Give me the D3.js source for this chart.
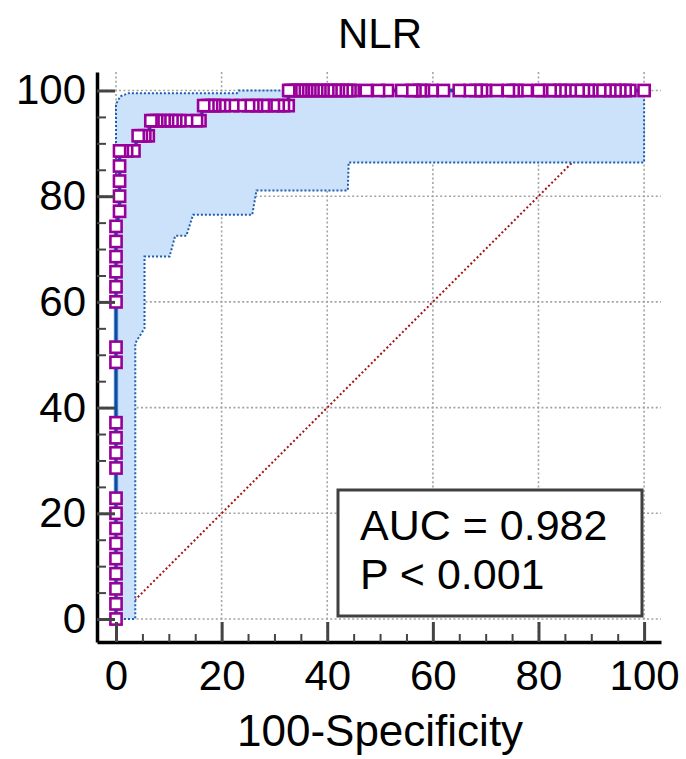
<!DOCTYPE html>
<html>
<head>
<meta charset="utf-8">
<script src="https://d3js.org/d3.v7.min.js"></script>
<style>
  body { margin: 0; background: #fff; }
  svg { display: block; font-family: 'Liberation Sans', Arial, sans-serif; }
  .grid line { stroke: #a3a3a3; stroke-width: 1.6; stroke-dasharray: 2 2.4; }
  .axis path.domain { stroke: #000; stroke-width: 3.5; }
  .axis .tick line { stroke: #444; stroke-width: 3; }
  .minor .tick line { stroke: #444; stroke-width: 2; }
  .axis text { font-size: 42px; fill: #000; }
</style>
</head>
<body>
<div id="holder"></div>
<script>
  // Chart values
  const title = 'NLR';
  const xLabel = '100-Specificity';
  const tickValues = [0, 20, 40, 60, 80, 100];
  const minorTicks = [5, 10, 15, 25, 30, 35, 45, 50, 55, 65, 70, 75, 85, 90, 95];

  // ROC points (100-specificity, sensitivity)
  const rocFpr = [
    0, 0, 0, 0, 0, 0, 0, 0, 0, 0, 0, 0, 0, 0, 0, 0, 0, 0, 0, 0, 0,
    0.67, 0.67, 0.67, 0.67, 0.67, 1.2, 2.0, 3.4,
    4.2, 4.8, 5.45, 6.1,
    6.6, 7.0, 7.7, 8.3, 9.1, 9.75, 10.6, 11.3, 12.1, 13.35, 15.25, 15.9,
    16.6, 17.4, 18.1, 18.7, 19.6, 20.5, 22.1, 23.5, 25.1, 25.9, 26.6, 27.9, 28.4, 29.8, 30.7, 31.7, 32.6,
    32.7, 33.1, 33.75, 34.4, 35.0, 35.5, 36.1, 36.7, 37.3, 38.0, 38.6, 39.2, 40.1, 40.7, 41.5, 42.1,
    42.8, 43.7, 44.3, 44.9, 47.4, 49.7, 51.4, 54.1, 56.0, 56.6, 57.6, 58.2, 59.8, 62.0, 65.0, 67.0,
    68.2, 69.2, 69.9, 72.1, 74.3, 75.2, 75.9, 77.7, 80.0, 80.6, 82.2, 83.1, 84.1, 85.0, 86.0, 87.5,
    88.5, 89.4, 90.1, 91.6, 92.6, 93.5, 94.5, 95.4, 96.4, 97.3, 100
  ];
  const rocSens = [
    0, 2.86, 5.71, 8.57, 11.43, 14.29, 17.14, 20.0, 22.86, 28.57, 31.43, 34.29, 37.14, 48.57, 51.43,
    60.0, 62.86, 65.71, 68.57, 71.43, 74.29,
    77.14, 80.0, 82.86, 85.71, 88.57, 88.57, 88.57, 88.57,
    91.43, 91.43, 91.43, 91.43,
    94.29, 94.29, 94.29, 94.29, 94.29, 94.29, 94.29, 94.29, 94.29, 94.29, 94.29, 94.29,
    97.14, 97.14, 97.14, 97.14, 97.14, 97.14, 97.14, 97.14, 97.14, 97.14, 97.14, 97.14, 97.14, 97.14, 97.14, 97.14, 97.14,
    100, 100, 100, 100, 100, 100, 100, 100, 100, 100, 100, 100, 100, 100, 100, 100,
    100, 100, 100, 100, 100, 100, 100, 100, 100, 100, 100, 100, 100, 100, 100, 100,
    100, 100, 100, 100, 100, 100, 100, 100, 100, 100, 100, 100, 100, 100, 100, 100,
    100, 100, 100, 100, 100, 100, 100, 100, 100, 100, 100
  ];

  // 95% confidence bounds
  const upperFpr = [0, 0, 0.8, 2.4, 22.9, 23.2, 100];
  const upperSens = [0, 97.4, 98.9, 99.5, 99.5, 100, 100];
  const lowerFpr = [0, 3.65, 3.65, 5.4, 5.4, 10.15, 11.2, 13.3, 14.6, 25.8, 26.6, 43.9, 44.05, 100, 100];
  const lowerSens = [0, 0, 52.2, 55.0, 68.6, 68.6, 72.5, 72.5, 76.5, 76.5, 81.1, 81.1, 86.4, 86.4, 100];

  const diagFpr = [0, 100];
  const diagSens = [0, 100];
  const statLines = ['AUC = 0.982', 'P < 0.001'];

  // Layout
  const w = 686;
  const h = 759;

  const xScale = d3.scaleLinear().domain([-3.6, 103.2]).range([97, 661]);
  const yScale = d3.scaleLinear().domain([-4.35, 103.5]).range([642, 72]);

  const svg = d3.select('#holder').append('svg').attr('width', w).attr('height', h);

  // grid
  const grid = svg.append('g').attr('class', 'grid');
  grid.selectAll('line.v').data(tickValues).enter().append('line')
    .attr('x1', d => xScale(d)).attr('x2', d => xScale(d))
    .attr('y1', yScale.range()[1]).attr('y2', yScale.range()[0]);
  grid.selectAll('line.h').data(tickValues).enter().append('line')
    .attr('y1', d => yScale(d)).attr('y2', d => yScale(d))
    .attr('x1', xScale.range()[0]).attr('x2', xScale.range()[1]);

  // reference diagonal
  const diag = diagFpr.map((d, i) => [d, diagSens[i]]);
  const line = d3.line().x(d => xScale(d[0])).y(d => yScale(d[1]));
  svg.append('path').attr('d', line(diag))
    .attr('fill', 'none').attr('stroke', '#a31515').attr('stroke-width', 2)
    .attr('stroke-dasharray', '2 2.4');

  // confidence band
  const upper = upperFpr.map((d, i) => [d, upperSens[i]]);
  const lower = lowerFpr.map((d, i) => [d, lowerSens[i]]);
  svg.append('path').attr('d', line(upper.concat(lower.slice().reverse())) + 'Z')
    .attr('fill', '#cce2fb').attr('stroke', 'none');
  [upper, lower].forEach(b => {
    svg.append('path').attr('d', line(b))
      .attr('fill', 'none').attr('stroke', '#1d5fae').attr('stroke-width', 2)
      .attr('stroke-dasharray', '2 2');
  });

  // ROC curve
  const roc = rocFpr.map((d, i) => [d, rocSens[i]]);
  svg.append('path').attr('d', line(roc))
    .attr('fill', 'none').attr('stroke', '#6a9fdc').attr('stroke-width', 4.5);
  svg.append('path').attr('d', line(roc))
    .attr('fill', 'none').attr('stroke', '#0b4c9c').attr('stroke-width', 2.8);

  // markers, drawn right to left
  const s = 11.2;
  svg.append('g').selectAll('rect').data(roc.slice().reverse()).enter().append('rect')
    .attr('x', d => xScale(d[0]) - s / 2)
    .attr('y', d => yScale(d[1]) - s / 2)
    .attr('width', s).attr('height', s)
    .attr('fill', '#fff').attr('stroke', '#990099').attr('stroke-width', 2.6);

  // axes
  const xAxis = d3.axisBottom(xScale).tickValues(tickValues).tickSize(-20).tickSizeOuter(0).tickPadding(18);
  svg.append('g').attr('class', 'axis').attr('transform', 'translate(0,' + yScale.range()[0] + ')').call(xAxis);
  svg.append('g').attr('class', 'axis minor').attr('transform', 'translate(0,' + yScale.range()[0] + ')')
    .call(d3.axisBottom(xScale).tickValues(minorTicks).tickSize(-8).tickFormat(''))
    .select('.domain').remove();

  const yAxis = d3.axisLeft(yScale).tickValues(tickValues).tickSize(-18).tickSizeOuter(0).tickPadding(11);
  svg.append('g').attr('class', 'axis').attr('transform', 'translate(' + xScale.range()[0] + ',0)').call(yAxis);
  svg.append('g').attr('class', 'axis minor').attr('transform', 'translate(' + xScale.range()[0] + ',0)')
    .call(d3.axisLeft(yScale).tickValues(minorTicks).tickSize(-9).tickFormat(''))
    .select('.domain').remove();

  // statistics box
  svg.append('rect').attr('x', 338).attr('y', 490).attr('width', 304).attr('height', 126)
    .attr('fill', '#fff').attr('stroke', '#404040').attr('stroke-width', 3);
  svg.selectAll('text.stat').data(statLines).enter().append('text')
    .attr('class', 'stat')
    .attr('x', 360).attr('y', (d, i) => 540 + i * 49)
    .style('font-size', '43px')
    .text(d => d);

  // titles
  svg.append('text').attr('x', (xScale(0) + xScale(100)) / 2).attr('y', 48)
    .attr('text-anchor', 'middle').style('font-size', '42px').text(title);
  svg.append('text').attr('x', (xScale(0) + xScale(100)) / 2).attr('y', 746)
    .attr('text-anchor', 'middle').style('font-size', '44px').text(xLabel);
</script>
</body>
</html>
